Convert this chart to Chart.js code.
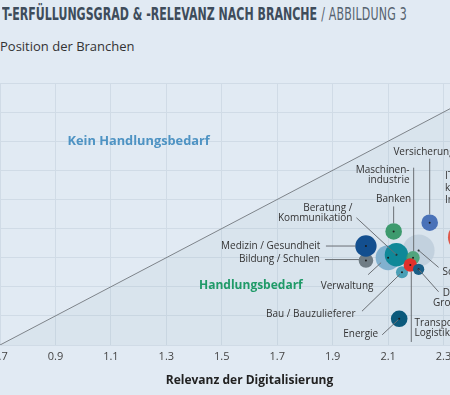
<!DOCTYPE html>
<html>
<head>
<meta charset="utf-8">
<script src="https://cdn.jsdelivr.net/npm/chart.js@4.4.1/dist/chart.umd.min.js"></script>
<style>
  html, body { margin: 0; padding: 0; width: 450px; height: 395px; overflow: hidden; background: #e1eaf3; font-family: "Open Sans", sans-serif; }
  #titel { position: absolute; left: 2px; top: 3px; white-space: nowrap; color: #3e4c5b; font-family: "Liberation Sans Narrow", "DejaVu Sans Condensed", "DejaVu Sans", sans-serif; font-size: 18px; transform-origin: 0 0; }
  #titel b { font-weight: bold; }
  #titel span { font-weight: normal; color: #55626f; letter-spacing: 0.3px; margin-left: 6px; }
  #untertitel { position: absolute; left: 0; top: 37px; font-size: 13px; color: #333; }
  #chart { position: absolute; left: -60px; top: 0; }
</style>
</head>
<body>
<div id="titel"><b>T-ERFÜLLUNGSGRAD &amp; -RELEVANZ NACH BRANCHE</b><span>/ ABBILDUNG 3</span></div>
<div id="untertitel">Position der Branchen</div>
<canvas id="chart" width="575" height="395"></canvas>
<script>
// Branchen in Zeichenreihenfolge (hinten -> vorne)
const branchen = ['Sonstige', 'Bildung / Schulen', 'Medizin / Gesundheit', 'Verwaltung', 'Beratung / Kommunikation',
  'Bau / Bauzulieferer', 'Maschinenindustrie', 'Transport / Logistik', 'Detail- / Großhandel',
  'Banken', 'Versicherung', 'IT / Telekommunikation', 'Energie'];
const relevanz   = [2.21, 2.02, 2.02, 2.10, 2.13, 2.15, 2.19, 2.18, 2.21, 2.12, 2.25, 2.37, 2.14];
const erfuellung = [1.35, 1.28, 1.38, 1.30, 1.32, 1.20, 1.30, 1.25, 1.22, 1.48, 1.54, 1.44, 0.88];
const anzahl     = [256, 53, 114, 156, 137, 36, 45, 45, 32, 69, 69, 225, 69];
const xTicks = [0.7, 0.9, 1.1, 1.3, 1.5, 1.7, 1.9, 2.1, 2.3, 2.5];
const yTicks = [0.7, 0.9, 1.1, 1.3, 1.5, 1.7, 1.9, 2.1, 2.3, 2.5];
const diagonale = [0.7, 2.5];

const farben = ['rgba(190,206,219,0.85)', '#6f7c84', '#134f8f', 'rgba(120,172,204,0.9)', '#0f8898',
  '#4a9fb6', 'rgba(70,160,115,0.9)', '#e2302b', '#195e86', '#3d9a6e', '#4a72b8', '#e0584a', '#0c5a7c'];

// Beschriftungen: Versatz in px relativ zum Blasenmittelpunkt
const beschriftungen = {
  'Sonstige': { lines: ['Sonstige'], align: 'left', dx: 24, dy: 22, lead: [0, 0, 20, 17] },
  'Verwaltung': { lines: ['Verwaltung'], align: 'center', dx: -41, dy: 28, lead: [-20, 17, -7, 5] },
  'Beratung / Kommunikation': { lines: ['Beratung /', 'Kommunikation'], align: 'right', dx: -44, dy: -47, lead: [-40, -37, 0, 0] },
  'Bildung / Schulen': { lines: ['Bildung / Schulen'], align: 'right', dx: -46, dy: -1.5, lead: [-41, -1, -7, -1] },
  'Medizin / Gesundheit': { lines: ['Medizin / Gesundheit'], align: 'right', dx: -45.5, dy: 0, lead: [-40, 0, -10, 0] },
  'Bau / Bauzulieferer': { lines: ['Bau / Bauzulieferer'], align: 'right', dx: -46.5, dy: 42, lead: [-40, 39, -2, 2] },
  'Maschinenindustrie': { lines: ['Maschinen-', 'industrie'], align: 'right', dx: -3.5, dy: -88, lead: [0.6, -90, 0.6, -6.5] },
  'Transport / Logistik': { lines: ['Transport /', 'Logistik'], align: 'left', dx: 4.3, dy: 58, lead: [1, 6.5, 1, 77] },
  'Detail- / Großhandel': { lines: ['Detail- /', 'Großhandel'], align: 'center', dx: 42.3, dy: 24.3, lead: [0, 0, 20, 22.5] },
  'Banken': { lines: ['Banken'], align: 'center', dx: 0, dy: -32.4, lead: [0, -25, 0, -8.3] },
  'Versicherung': { lines: ['Versicherung'], align: 'left', dx: -36.3, dy: -71, lead: [0, -64, 0, -8.3] },
  'IT / Telekommunikation': { lines: ['IT / Tele-', 'kommunikation', 'Internet'], align: 'left', dx: -18, dy: -61, lh: 12 },
  'Energie': { lines: ['Energie'], align: 'right', dx: -21, dy: 15.5, lead: [-17, 16, -1, 1] }
};
const bereiche = [
  { text: 'Kein Handlungsbedarf', x: 1.20, y: 2.10, color: '#4e93c3', size: 12.8 },
  { text: 'Handlungsbedarf', x: 1.605, y: 1.105, color: '#1f9a68', size: 12 }
];

const beschriftung = {
  id: 'beschriftung',
  afterDatasetsDraw(chart) {
    const ctx = chart.ctx;
    const meta = chart.getDatasetMeta(0);
    const sx = chart.scales.x, sy = chart.scales.y;
    ctx.save();
    ctx.textBaseline = 'middle';
    bereiche.forEach(b => {
      ctx.font = 'bold ' + b.size + 'px "Open Sans"';
      ctx.fillStyle = b.color;
      ctx.textAlign = 'center';
      ctx.fillText(b.text, sx.getPixelForValue(b.x), sy.getPixelForValue(b.y));
    });
    meta.data.forEach((pt, i) => {
      const cfg = beschriftungen[branchen[i]];
      // Mittelpunkt
      ctx.fillStyle = '#1b1b1b';
      ctx.beginPath();
      ctx.arc(pt.x, pt.y, 1, 0, Math.PI * 2);
      ctx.fill();
      if (!cfg) return;
      if (cfg.lead) {
        ctx.strokeStyle = '#6a6f74';
        ctx.lineWidth = 1;
        ctx.beginPath();
        ctx.moveTo(pt.x + cfg.lead[0], pt.y + cfg.lead[1]);
        ctx.lineTo(pt.x + cfg.lead[2], pt.y + cfg.lead[3]);
        ctx.stroke();
      }
      ctx.font = '10px "Open Sans"';
      ctx.fillStyle = '#333';
      ctx.textAlign = cfg.align;
      const lh = cfg.lh || 10;
      cfg.lines.forEach((l, k) => ctx.fillText(l, pt.x + cfg.dx, pt.y + cfg.dy + k * lh));
    });
    ctx.restore();
  }
};

new Chart(document.getElementById('chart'), {
  data: {
    datasets: [
      {
        type: 'bubble',
        data: branchen.map((b, i) => ({ x: relevanz[i], y: erfuellung[i], r: Math.sqrt(anzahl[i]) })),
        backgroundColor: farben,
        borderWidth: 0
      },
      {
        type: 'line',
        data: diagonale.map(v => ({ x: v, y: v })),
        borderColor: '#7d8389',
        borderWidth: 1,
        pointRadius: 0,
        fill: 'start',
        backgroundColor: 'rgba(110,130,150,0.06)'
      }
    ]
  },
  options: {
    responsive: false,
    animation: false,
    events: [],
    layout: { padding: { top: 83, right: 0, left: 0, bottom: 0 } },
    plugins: { legend: { display: false }, tooltip: { enabled: false } },
    scales: {
      x: {
        type: 'linear', min: 0.7, max: 2.5,
        afterBuildTicks: s => { s.ticks = xTicks.map(v => ({ value: v })); },
        afterFit: s => { s.height = 50; },
        ticks: { padding: 5, color: '#444', font: { size: 11, family: 'Open Sans' }, callback: v => v.toFixed(1) },
        grid: { color: '#d0dbe6', drawTicks: false },
        border: { display: false },
        title: { display: true, text: 'Relevanz der Digitalisierung', color: '#222', font: { size: 12, weight: 'bold', family: 'Open Sans' }, padding: { top: 0, bottom: 7 } }
      },
      y: {
        type: 'linear', min: 0.7, max: 2.5,
        afterBuildTicks: s => { s.ticks = yTicks.map(v => ({ value: v })); },
        afterFit: s => { s.width = 60; },
        ticks: { display: false },
        grid: { color: '#d0dbe6', drawTicks: false },
        border: { display: false }
      }
    }
  },
  plugins: [beschriftung]
});

// Titel auf Breite der Vorlage stauchen
const titel = document.getElementById('titel');
const bw = titel.querySelector('b').getBoundingClientRect().width;
titel.style.transform = 'scaleX(' + (315 / bw).toFixed(3) + ')';
</script>
</body>
</html>
